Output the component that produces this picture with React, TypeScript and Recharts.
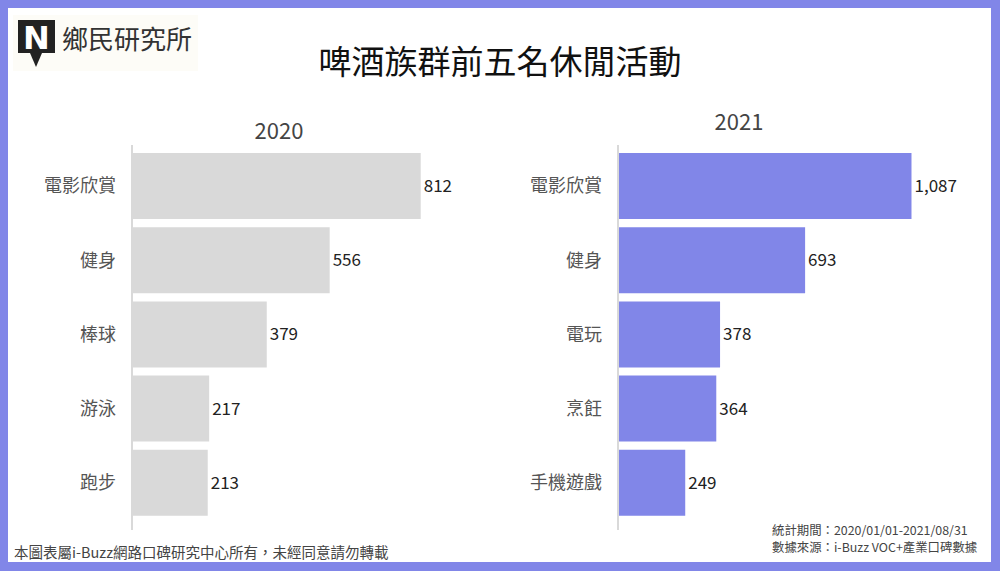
import { BarChart, Bar, XAxis, YAxis, LabelList } from 'recharts';

const categories2020 = ['電影欣賞', '健身', '棒球', '游泳', '跑步'];
const values2020 = [812, 556, 379, 217, 213];

const categories2021 = ['電影欣賞', '健身', '電玩', '烹飪', '手機遊戲'];
const values2021 = [1087, 693, 378, 364, 249];

const FONT = '"Noto Sans CJK TC", "Noto Sans", sans-serif';
const PURPLE = '#8186e8';

const toRows = (names: string[], values: number[]) =>
    names.map((name, i) => ({ name, value: values[i] }));

interface PanelProps {
    rows: { name: string; value: number }[];
    left: number;
    axisWidth: number;
    plotWidth: number;
    maxDomain: number;
    color: string;
}

const Panel = ({ rows, left, axisWidth, plotWidth, maxDomain, color }: PanelProps) => (
    <div style={{ position: 'absolute', left, top: 0 }}>
        <BarChart
            width={axisWidth + plotWidth + 60}
            height={571}
            data={rows}
            layout="vertical"
            margin={{ top: 145, right: 60, bottom: 41, left: 0 }}
            barCategoryGap={4}
        >
            <XAxis type="number" domain={[0, maxDomain]} hide />
            <YAxis
                type="category"
                dataKey="name"
                width={axisWidth}
                padding={{ top: 4, bottom: 10 }}
                tickLine={false}
                tickSize={0}
                tickMargin={16}
                axisLine={{ stroke: '#d9d9d9', strokeWidth: 2 }}
                tick={{ fill: '#555', fontSize: 18, fontFamily: FONT }}
            />
            <Bar dataKey="value" fill={color} isAnimationActive={false}>
                <LabelList
                    dataKey="value"
                    position="right"
                    offset={3}
                    fill="#222"
                    fontSize={17}
                    fontFamily={FONT}
                    formatter={(v: number) => v.toLocaleString('en-US')}
                />
            </Bar>
        </BarChart>
    </div>
);

const App = () => {
    return (
        <div
            style={{
                position: 'absolute',
                left: 0,
                top: 0,
                width: 1000,
                height: 571,
                boxSizing: 'border-box',
                border: `8px solid ${PURPLE}`,
                borderRight: `9px solid ${PURPLE}`,
                borderBottom: `9px solid ${PURPLE}`,
                background: '#fff',
                fontFamily: FONT,
                overflow: 'hidden',
            }}
        >
            <div style={{ position: 'absolute', left: -8, top: -8, width: 1000, height: 571 }}>
                {/* logo */}
                <div style={{ position: 'absolute', left: 13, top: 15, width: 185, height: 56, background: '#fdfcf7' }} />
                <svg style={{ position: 'absolute', left: 17, top: 19 }} width={40} height={50}>
                    <rect x={1} y={1} width={37} height={33} fill="#222" />
                    <polygon points="13,34 25,34 19,48" fill="#222" />
                    <text x={19.5} y={30} textAnchor="middle" fill="#fff" fontSize={32} fontWeight="bold" fontFamily="DejaVu Sans">N</text>
                </svg>
                <div style={{ position: 'absolute', left: 62, top: 20, fontSize: 26, color: '#333', lineHeight: '36px' }}>
                    鄉民研究所
                </div>

                {/* title */}
                <div style={{ position: 'absolute', left: 0, width: 1000, top: 38, textAlign: 'center', fontSize: 33, color: '#111', lineHeight: '44px' }}>
                    啤酒族群前五名休閒活動
                </div>

                {/* year headers */}
                <div style={{ position: 'absolute', left: 229, width: 100, top: 113, textAlign: 'center', fontSize: 22, color: '#444', lineHeight: '32px' }}>
                    2020
                </div>
                <div style={{ position: 'absolute', left: 689, width: 100, top: 104, textAlign: 'center', fontSize: 22, color: '#444', lineHeight: '32px' }}>
                    2021
                </div>

                <Panel rows={toRows(categories2020, values2020)} left={0} axisWidth={132} plotWidth={320} maxDomain={900} color="#d9d9d9" />
                <Panel rows={toRows(categories2021, values2021)} left={480} axisWidth={138} plotWidth={324} maxDomain={1200} color={PURPLE} />

                {/* footer */}
                <div style={{ position: 'absolute', left: 14, top: 542, fontSize: 14.5, color: '#444', lineHeight: '20px' }}>
                    本圖表屬i-Buzz網路口碑研究中心所有，未經同意請勿轉載
                </div>
                <div style={{ position: 'absolute', left: 772, top: 522, fontSize: 12.4, color: '#444', lineHeight: '17px' }}>
                    <div>統計期間：2020/01/01-2021/08/31</div>
                    <div>數據來源：i-Buzz VOC+產業口碑數據</div>
                </div>
            </div>
        </div>
    );
};

export default App;
